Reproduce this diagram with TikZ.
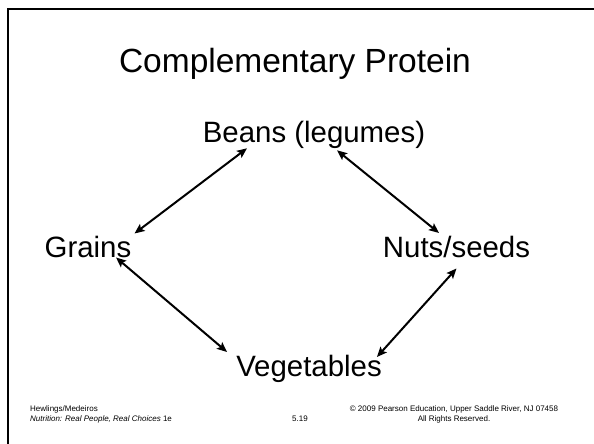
\documentclass[tikz,border=0pt]{standalone}
\usepackage{fontspec}
\setmainfont{Liberation Sans}
\usepackage{tikz}
\usetikzlibrary{arrows.meta}

\begin{document}
\begin{tikzpicture}[x=1pt, y=1pt,
  food/.style={inner sep=0pt, anchor=base, font=\fontsize{29.4}{34}\selectfont},
  heading/.style={inner sep=0pt, anchor=base, font=\fontsize{33.5}{40}\selectfont},
  foot/.style={inner sep=0pt, font=\fontsize{8}{10}\selectfont},
  pair/.style={{Stealth[length=10pt, width=8.5pt, inset=2pt]}-{Stealth[length=10pt, width=8.5pt, inset=2pt]}, line width=2pt}
]
\useasboundingbox (0,0) rectangle (594,-444);
% ================= slide frame =================
\draw[line width=2.5pt] (8,-450) -- (8,-9) -- (600,-9);
% ================= title =================
\node[heading] (title) at (295,-73) {Complementary Protein};
% ================= the four foods =================
\node[food] (beans) at (314,-142) {Beans (legumes)};
\node[food] (grains) at (88,-257) {Grains};
\node[food] (nuts) at (456.5,-257) {Nuts/seeds};
\node[food] (veg) at (309,-376) {Vegetables};
% ================= two-way arrows =================
\draw[pair] ([xshift=-67pt]beans.south) -- ([xshift=3pt, yshift=2pt]grains.north east);
\draw[pair] ([xshift=23pt, yshift=-2pt]beans.south) -- ([xshift=-17.5pt, yshift=2.5pt]nuts.north);
\draw[pair] ([xshift=28pt]grains.south) -- ([xshift=-9pt, yshift=2.5pt]veg.north west);
\draw[pair] ([yshift=-11pt]nuts.south) -- ([xshift=-5pt, yshift=-2.5pt]veg.north east);
% ================= footer =================
\node[foot, align=left, anchor=base west] (credit) at (30,-421) {Hewlings/Medeiros\\\textit{Nutrition: Real People, Real Choices} 1e};
\node[foot, anchor=base west] (page) at (292,-421) {5.19};
\node[foot, align=center, anchor=base] (rights) at (454,-421) {© 2009 Pearson Education, Upper Saddle River, NJ 07458\\All Rights Reserved.};
\end{tikzpicture}
\end{document}
